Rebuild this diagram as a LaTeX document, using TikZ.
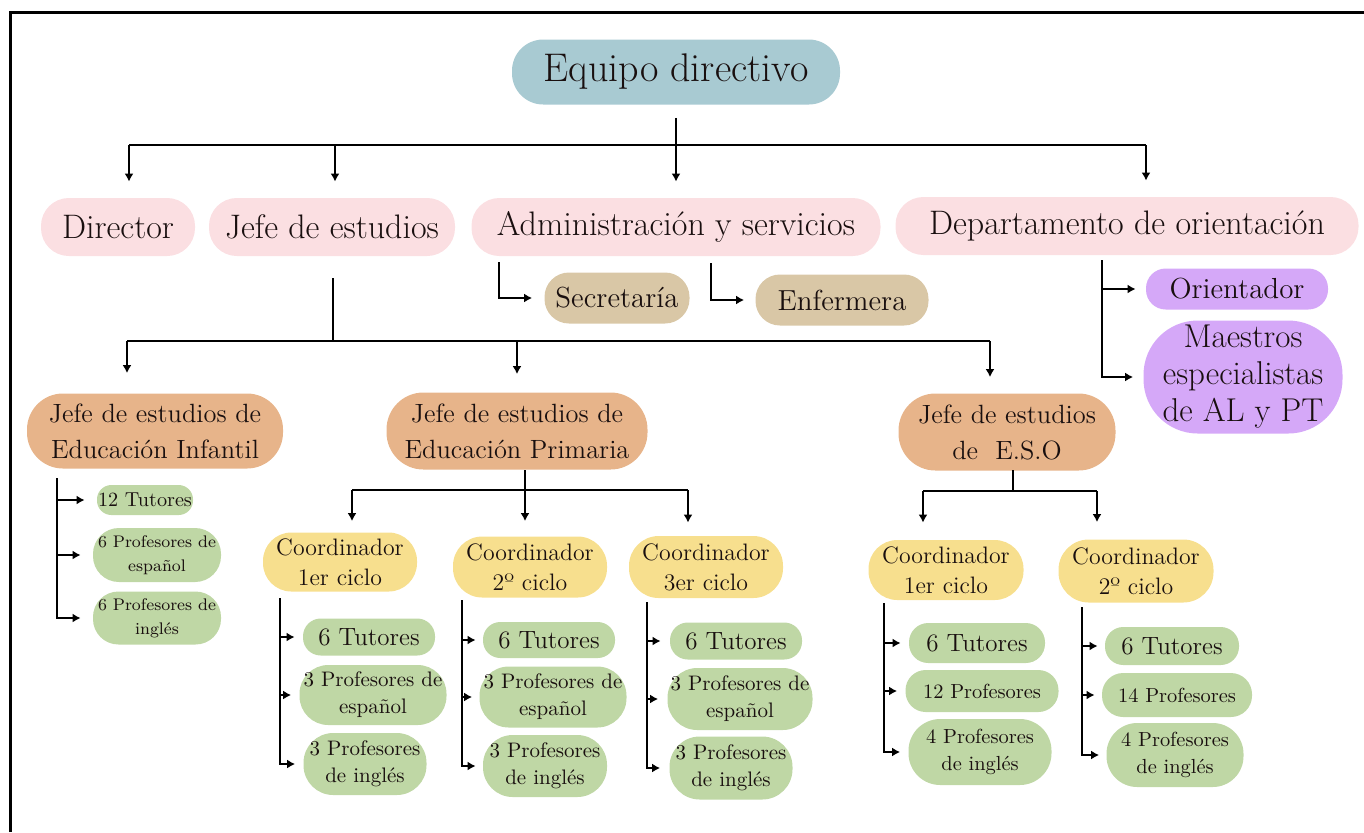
\documentclass[tikz,border=0pt]{standalone}
\usetikzlibrary{arrows.meta}
\definecolor{ink}{RGB}{25,15,15}
\definecolor{cblue}{RGB}{168,202,210}
\definecolor{cpink}{RGB}{251,223,226}
\definecolor{ctan}{RGB}{217,199,166}
\definecolor{cpurple}{RGB}{213,168,248}
\definecolor{corange}{RGB}{231,180,138}
\definecolor{cyellow}{RGB}{247,223,142}
\definecolor{cgreen}{RGB}{191,215,165}
\tikzset{
  bx/.style n args={2}{rectangle, draw=none, inner sep=0pt, align=center, text=ink,
    minimum width=#1*0.5pt, minimum height=#2*0.5pt, rounded corners=#2*0.24pt},
  ln/.style={line width=1.2pt, draw=black},
  arr/.style={line width=1.2pt, draw=black, -{Latex[length=4pt,width=4.5pt]}},
  fone/.style={font=\fontsize{20}{23}\selectfont},
  ftwo/.style={font=\fontsize{17}{20}\selectfont},
  fthree/.style={font=\fontsize{14.5}{17}\selectfont},
  fmae/.style={font=\fontsize{16.5}{18.5}\selectfont},
  forg/.style={font=\fontsize{13.2}{18}\selectfont},
  fcoord/.style={font=\fontsize{11.9}{15}\selectfont},
  ftut/.style={font=\fontsize{12.5}{14}\selectfont},
  fprof/.style={font=\fontsize{10.5}{13.5}\selectfont},
  fprofe/.style={font=\fontsize{10.2}{13.5}\selectfont},
  fitut/.style={font=\fontsize{10.1}{12}\selectfont},
  fiprof/.style={font=\fontsize{8.4}{12}\selectfont},
}
\begin{document}
\begin{tikzpicture}[x=0.5pt,y=-0.5pt]
\useasboundingbox (0,0) rectangle (1364,832);
\draw[line width=1.5pt] (10,832) -- (10,12) -- (1364,12);

% level 1
\node[bx={328}{65}, fill=cblue, fone] (eq) at (676,72) {Equipo directivo};
% level 2
\node[bx={154}{58}, fill=cpink, ftwo] (dir) at (118,227) {Director};
\node[bx={246}{58}, fill=cpink, ftwo] (jefe) at (332,227) {Jefe de estudios};
\node[bx={409}{58}, fill=cpink, ftwo] (adm) at (676,227) {Administración y servicios};
\node[bx={463}{58}, fill=cpink, ftwo] (dep) at (1127,226) {Departamento de orientación};
% admin children
\node[bx={145}{51}, fill=ctan, fthree] (sec) at (617,298) {Secretaría};
\node[bx={173}{51}, fill=ctan, fthree] (enf) at (842,300) {Enfermera};
% orientation children
\node[bx={182}{41}, fill=cpurple, fthree] (ori) at (1237,289) {Orientador};
\node[bx={199}{113}, fill=cpurple, fmae] (mae) at (1243,377) {Maestros\\especialistas\\de AL y PT};
% level 3
\node[bx={256}{75}, fill=corange, forg] (inf) at (155,431) {Jefe de estudios de\\Educación Infantil};
\node[bx={261}{77}, fill=corange, forg] (pri) at (517,431) {Jefe de estudios de\\Educación Primaria};
\node[bx={217}{77}, fill=corange, forg] (eso) at (1007,432) {Jefe de estudios\\de~ E.S.O};
% coordinators
\node[bx={154}{59}, fill=cyellow, fcoord] (pc1) at (340,562) {Coordinador\\1er ciclo};
\node[bx={154}{61}, fill=cyellow, fcoord] (pc2) at (530,567) {Coordinador\\2º ciclo};
\node[bx={154}{62}, fill=cyellow, fcoord] (pc3) at (706,567) {Coordinador\\3er ciclo};
\node[bx={155}{60}, fill=cyellow, fcoord] (ec1) at (946,570) {Coordinador\\1er ciclo};
\node[bx={155}{63}, fill=cyellow, fcoord] (ec2) at (1136,571) {Coordinador\\2º ciclo};
% infantil children
\node[bx={96}{30}, fill=cgreen, fitut] (g11) at (145,500) {12 Tutores};
\node[bx={128}{54}, fill=cgreen, fiprof] (g12) at (157,555) {6 Profesores de\\español};
\node[bx={128}{53}, fill=cgreen, fiprof] (g13) at (157,618) {6 Profesores de\\inglés};
% primaria c1
\node[bx={132}{37}, fill=cgreen, ftut] (g21) at (369,637) {6 Tutores};
\node[bx={147}{60}, fill=cgreen, fprof] (g22) at (373,695) {3 Profesores de\\español};
\node[bx={123}{62}, fill=cgreen, fprof] (g23) at (365,764) {3 Profesores\\de inglés};
% primaria c2
\node[bx={132}{36}, fill=cgreen, ftut] (g31) at (549,640) {6 Tutores};
\node[bx={147}{61}, fill=cgreen, fprof] (g32) at (553,697) {3 Profesores de\\español};
\node[bx={124}{62}, fill=cgreen, fprof] (g33) at (545,766) {3 Profesores\\de inglés};
% primaria c3
\node[bx={132}{37}, fill=cgreen, ftut] (g41) at (736,641) {6 Tutores};
\node[bx={145}{62}, fill=cgreen, fprof] (g42) at (740,699) {3 Profesores de\\español};
\node[bx={123}{63}, fill=cgreen, fprof] (g43) at (731,768) {3 Profesores\\de inglés};
% eso c1
\node[bx={136}{40}, fill=cgreen, ftut] (g51) at (977,643) {6 Tutores};
\node[bx={153}{42}, fill=cgreen, fprofe] (g52) at (982,691) {12 Profesores};
\node[bx={143}{66}, fill=cgreen, fprofe] (g53) at (980,752) {4 Profesores\\de inglés};
% eso c2
\node[bx={134}{38}, fill=cgreen, ftut] (g61) at (1172,646) {6 Tutores};
\node[bx={150}{44}, fill=cgreen, fprofe] (g62) at (1177,695) {14 Profesores};
\node[bx={137}{64}, fill=cgreen, fprofe] (g63) at (1175,755) {4 Profesores\\de inglés};

% ---- connectors ----
\coordinate (t1) at (129,145);
\coordinate (t2) at (335,145);
\coordinate (t4) at (1146,145);
\draw[ln] (t1) -- (t4);
\draw[arr, shorten <=6.5pt, shorten >=8pt] (eq.south) -- (adm.north);
\draw[arr, shorten >=8pt] (t1) -- (t1 |- dir.north);
\draw[arr, shorten >=8pt] (t2) -- (t2 |- jefe.north);
\draw[arr, shorten >=8pt] (t4) -- (t4 |- dep.north);

\coordinate (s0) at (499,262);
\draw[arr, shorten >=6pt] (s0) |- (sec.west);
\coordinate (n0) at (711,263);
\draw[arr, shorten >=5.5pt] (n0) |- (enf.west);

\coordinate (o0) at (1102,260);
\draw[arr, shorten >=5pt] (o0) |- (ori.west);
\draw[arr, shorten >=5pt] (o0) |- (mae.west);

\coordinate (j0) at (333,278);
\coordinate (jb) at (333,341);
\draw[ln] (j0) -- (jb);
\coordinate (b1) at (127,341);
\coordinate (b2) at (517,341);
\coordinate (b3) at (990,341);
\draw[ln] (b1) -- (b3);
\draw[arr, shorten >=10pt] (b1) -- (b1 |- inf.north);
\draw[arr, shorten >=9pt] (b2) -- (b2 |- pri.north);
\draw[arr, shorten >=8pt] (b3) -- (b3 |- eso.north);

\coordinate (p0) at (525,470);
\coordinate (p1) at (352,490);
\coordinate (p3) at (688,490);
\draw[ln] (p1) -- (p3);
\draw[arr, shorten >=7.5pt] (p0) -- (p0 |- pc2.north);
\draw[arr, shorten >=5.5pt] (p1) -- (p1 |- pc1.north);
\draw[arr, shorten >=6.5pt] (p3) -- (p3 |- pc3.north);

\coordinate (e0) at (1013,470);
\coordinate (e1) at (923,491);
\coordinate (e2) at (1097,491);
\draw[ln] (e0) -- (e0 |- e1);
\draw[ln] (e1) -- (e2);
\draw[arr, shorten >=8.5pt] (e1) -- (e1 |- ec1.north);
\draw[arr, shorten >=8.5pt] (e2) -- (e2 |- ec2.north);

\coordinate (i0) at (57,478);
\foreach \k in {g11,g12,g13} \draw[arr, shorten >=6pt] (i0) |- (\k.west);
\coordinate (q0) at (280,598);
\foreach \k in {g21,g22,g23} \draw[arr, shorten >=4pt] (q0) |- (\k.west);
\coordinate (r0) at (462,600);
\foreach \k in {g31,g32,g33} \draw[arr, shorten >=3.5pt] (r0) |- (\k.west);
\coordinate (u0) at (647,602);
\foreach \k in {g41,g42,g43} \draw[arr, shorten >=4.5pt] (u0) |- (\k.west);
\coordinate (w0) at (884,603);
\foreach \k in {g51,g52,g53} \draw[arr, shorten >=4pt] (w0) |- (\k.west);
\coordinate (z0) at (1082,607);
\foreach \k in {g61,g62,g63} \draw[arr, shorten >=3.5pt] (z0) |- (\k.west);
\end{tikzpicture}
\end{document}
